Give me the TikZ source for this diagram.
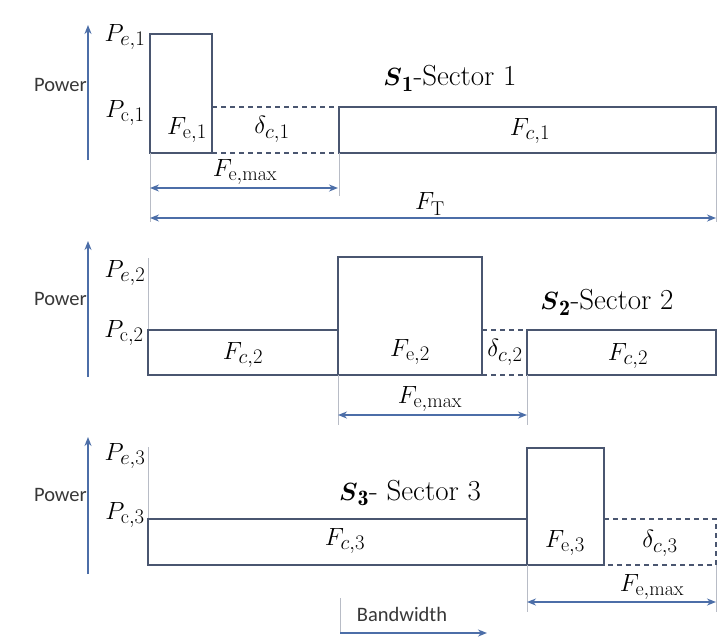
\documentclass[tikz,border=0pt]{standalone}
\usepackage{amsmath}
\usepackage{fontspec}
\newfontfamily\calib{Carlito}
\usetikzlibrary{arrows.meta}
\DeclareMathSizes{25}{25}{20}{16}
\DeclareMathSizes{29}{29}{22}{17}
\definecolor{boxc}{HTML}{4A5670}
\definecolor{arrc}{HTML}{4C6EA8}
\definecolor{extc}{HTML}{B8BCC6}
\tikzset{
  x=1pt,y=-1pt,
  band/.style={draw=boxc,line width=1.8pt},
  gap/.style={draw=boxc,line width=1.5pt,dash pattern=on 5pt off 4pt},
  ext/.style={draw=extc,line width=0.8pt},
  axisarrow/.style={draw=arrc,line width=1.6pt,-{Stealth[length=9pt,width=7pt]}},
  dimarrow/.style={draw=arrc,line width=1.6pt,{Stealth[length=9pt,width=7pt]}-{Stealth[length=9pt,width=7pt]}},
  lbl/.style={inner sep=0pt,font=\fontsize{25}{27}\selectfont},
  plbl/.style={inner sep=0pt,font=\fontsize{25}{27}\selectfont},
  pw/.style={inner sep=0pt,anchor=east,font=\calib\fontsize{20.5}{22}\selectfont,text=black!78},
  sec/.style={inner sep=0pt,font=\fontsize{29}{31}\selectfont},
}
\begin{document}
\begin{tikzpicture}
\useasboundingbox (0,0) rectangle (724,638);
% ---------------- Sector 1 ----------------
\coordinate (a1b) at (88,160); \coordinate (a1t) at (88,25);
\draw[axisarrow] (a1b) -- (a1t);
\node[pw] (pow1) at (87,85) {Power};
\node[plbl] (pe1) at (125,37) {$P_{e,1}$};
\node[plbl] (pc1) at (125,113) {$P_{\mathrm{c},1}$};
\coordinate (e1a) at (150,34); \coordinate (e1b) at (212,153);
\coordinate (c1a) at (339,107); \coordinate (c1b) at (716,153);
\draw[band] (e1a) rectangle (e1b);
\draw[gap] (212,107) -- (339,107) (212,153) -- (339,153);
\draw[band] (c1a) rectangle (c1b);
\node[lbl] (fe1) at (187,130) {$F_{\mathrm{e},1}$};
\node[lbl] (dc1) at (272,129) {$\delta_{c,1}$};
\node[lbl] (fc1) at (530,131) {$F_{c,1}$};
\node[sec] (s1) at (450,78) {$\boldsymbol{S}_{\mathbf{1}}$-Sector 1};
\coordinate (x1l) at (150,188); \coordinate (x1r) at (338,188);
\coordinate (t1l) at (150,218); \coordinate (t1r) at (716,218);
\draw[ext] (150,153) -- (150,222) (339,153) -- (339,196) (716,153) -- (716,222);
\draw[dimarrow] (x1l) -- (x1r);
\node[lbl] (fm1) at (245,172) {$F_{\mathrm{e,max}}$};
\draw[dimarrow] (t1l) -- (t1r);
\node[lbl] (ft) at (430,204) {$F_{\mathrm{T}}$};
% ---------------- Sector 2 ----------------
\coordinate (a2b) at (88,377); \coordinate (a2t) at (88,241);
\draw[axisarrow] (a2b) -- (a2t);
\node[pw] (pow2) at (87,299) {Power};
\node[plbl] (pe2) at (125,273) {$P_{e,2}$};
\node[plbl] (pc2) at (124,333) {$P_{\mathrm{c},2}$};
\draw[ext] (148,258) -- (148,330);
\draw[band] (148,330) rectangle (338,375);
\draw[band] (338,257) rectangle (482,375);
\draw[gap] (482,330) -- (527,330) (482,375) -- (527,375);
\draw[band] (527,330) rectangle (716,375);
\node[lbl] (fc2a) at (243,355) {$F_{c,2}$};
\node[lbl] (fe2) at (410,352) {$F_{\mathrm{e},2}$};
\node[lbl] (dc2) at (505,352) {$\delta_{c,2}$};
\node[lbl] (fc2b) at (628,356) {$F_{c,2}$};
\node[sec] (s2) at (607,302) {$\boldsymbol{S}_{\mathbf{2}}$-Sector 2};
\draw[ext] (338,375) -- (338,425) (527,375) -- (527,425);
\coordinate (x2l) at (338,415); \coordinate (x2r) at (527,415);
\draw[dimarrow] (x2l) -- (x2r);
\node[lbl] (fm2) at (430,399) {$F_{\mathrm{e,max}}$};
% ---------------- Sector 3 ----------------
\coordinate (a3b) at (88,574); \coordinate (a3t) at (88,437);
\draw[axisarrow] (a3b) -- (a3t);
\node[pw] (pow3) at (87,495) {Power};
\node[plbl] (pe3) at (125,456) {$P_{e,3}$};
\node[plbl] (pc3) at (125,515) {$P_{\mathrm{c},3}$};
\draw[ext] (148,447) -- (148,519);
\draw[band] (148,519) rectangle (527,565);
\draw[band] (527,448) rectangle (604,565);
\draw[gap] (604,519) -- (716,519) -- (716,565) -- (604,565);
\node[lbl] (fc3) at (345,541) {$F_{c,3}$};
\node[lbl] (fe3) at (565,543) {$F_{\mathrm{e},3}$};
\node[lbl] (dc3) at (660,543) {$\delta_{c,3}$};
\node[sec] (s3) at (410,493) {$\boldsymbol{S}_{\mathbf{3}}$- Sector 3};
\draw[ext] (527,565) -- (527,612) (716,565) -- (716,612);
\coordinate (x3l) at (527,602); \coordinate (x3r) at (716,602);
\draw[dimarrow] (x3l) -- (x3r);
\node[lbl] (fm3) at (652,587) {$F_{\mathrm{e,max}}$};
\node[pw,anchor=center] (bw) at (402,614) {Bandwidth};
\coordinate (bwl) at (340,633); \coordinate (bwr) at (487,633);
\draw[ext] (340,598) -- (bwl);
\draw[axisarrow] (bwl) -- (bwr);
\end{tikzpicture}
\end{document}
